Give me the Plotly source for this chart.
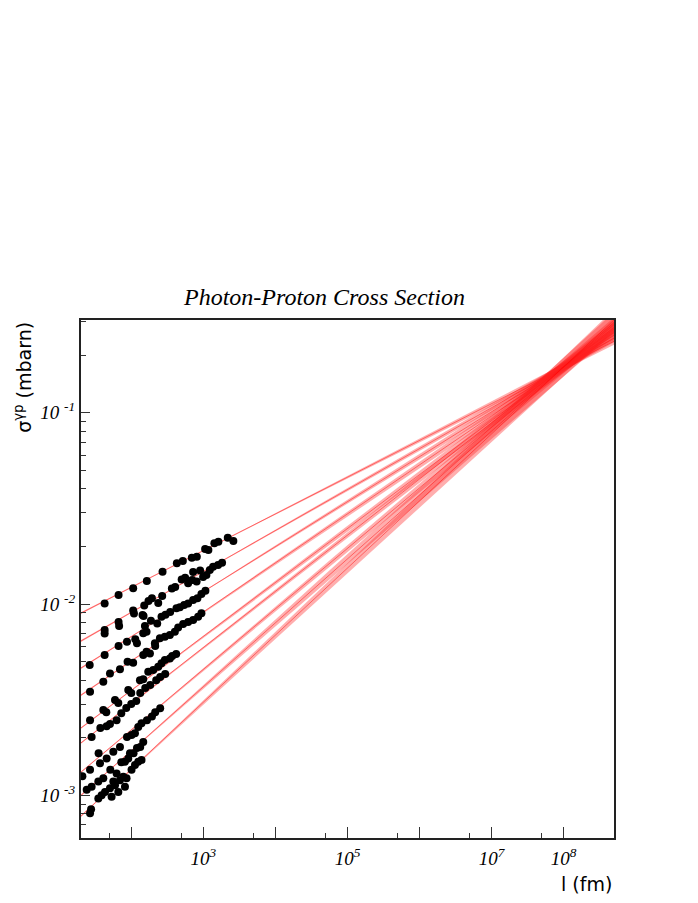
import numpy as np
import plotly.graph_objects as go

# ---- fit parameters: sigma = s20 * (l / 20 fm)^b ----
fit_sigma_at_20fm = [0.00897, 0.00641, 0.00463, 0.00334, 0.00225, 0.00188, 0.001323, 0.00100, 0.000779]
fit_exponent = [0.1921, 0.2140, 0.2351, 0.2562, 0.2819, 0.2936, 0.3162, 0.3342, 0.3506]
fit_exponent_err = [0.003, 0.0035, 0.004, 0.0045, 0.005, 0.005, 0.0055, 0.008, 0.008]
fit_pivot_fm = [500, 450, 300, 250, 150, 120, 90, 70, 70]

# ---- data points (l in fm, sigma in mbarn) ----
l_s1 = [42.6, 66.5, 106, 164, 271, 428, 518, 691, 810, 1056, 1173, 1420, 1614, 2178, 2604]
sig_s1 = [0.01008, 0.01114, 0.01208, 0.01319, 0.01476, 0.01633, 0.01679, 0.01746, 0.01767,
          0.01939, 0.01915, 0.02077, 0.02118, 0.02222, 0.02134]

l_s2 = [42.6, 42.6, 66.5, 67.6, 106, 108.7, 147.6, 151, 173, 193, 236, 268, 365, 406, 499,
        558, 614, 698, 720, 805, 900, 991, 1101, 1227, 1363, 1598, 1816]
sig_s2 = [0.00731, 0.00701, 0.00805, 0.00767, 0.00925, 0.00892, 0.00866, 0.00982, 0.01037,
          0.01071, 0.01012, 0.01101, 0.01205, 0.01227, 0.01343, 0.01372, 0.01283, 0.01335,
          0.01470, 0.01312, 0.01497, 0.01384, 0.01419, 0.01507, 0.01567, 0.01600, 0.01644]

l_s3 = [26.4, 42.6, 66.5, 86.9, 113.3, 119.6, 143.0, 146.2, 154.3, 162.4, 186.8, 228.5, 262,
        297.6, 345.7, 422.8, 471.2, 540.4, 614, 720, 826, 938.5, 1066]
sig_s3 = [0.00480, 0.00541, 0.00603, 0.00635, 0.00654, 0.00623, 0.00876, 0.00703, 0.00767,
          0.00716, 0.00818, 0.00792, 0.00858, 0.00879, 0.00908, 0.00950, 0.00961, 0.00988,
          0.01008, 0.01049, 0.01071, 0.01128, 0.01173]

l_s4 = [26.7, 40.8, 50.5, 69.5, 88.6, 106, 146.2, 162.4, 181.0, 212.3, 214.3, 249, 292, 342.4,
        401.7, 446.3, 523.5, 614, 720, 844.8, 938.5]
sig_s4 = [0.00348, 0.00392, 0.00434, 0.00456, 0.00500, 0.00494, 0.00541, 0.00563, 0.00552,
          0.00623, 0.00603, 0.00662, 0.00675, 0.00689, 0.00716, 0.00754, 0.00786, 0.00805,
          0.00825, 0.00858, 0.00894]

l_s5 = [26.7, 40.8, 44.9, 59.3, 65.9, 90.6, 99.7, 131.6, 146.2, 171.5, 201.1, 236, 262, 292,
        342.4, 368.6, 418.7]
sig_s5 = [0.00247, 0.00279, 0.00272, 0.00315, 0.00304, 0.00355, 0.00343, 0.00400, 0.00405,
          0.00443, 0.00452, 0.00470, 0.00490, 0.00510, 0.00520, 0.00535, 0.00548]

l_s6 = [28.1, 37.1, 45.4, 50.5, 62.4, 72.5, 85.0, 99.7, 116.9, 132.8, 155.8, 182.7, 221.3,
        251.3, 294.8]
sig_s6 = [0.00202, 0.00225, 0.00230, 0.00236, 0.00247, 0.00269, 0.00286, 0.00300, 0.00311,
          0.00343, 0.00364, 0.00377, 0.00400, 0.00415, 0.00431]

l_s7 = [20.9, 26.7, 35.1, 36.7, 45.4, 56.2, 69.5, 86.9, 100.6, 112.2, 124.6, 138.4, 164.5,
        193, 214.3, 251.3]
sig_s7 = [0.00126, 0.00136, 0.00166, 0.00147, 0.00156, 0.00169, 0.00179, 0.00202, 0.00207,
          0.00211, 0.00228, 0.00238, 0.00247, 0.00258, 0.00272, 0.00285]

l_s8 = [24.0, 28.1, 34.8, 40.8, 51.0, 62.4, 72.5, 81.5, 90.6, 95.7, 107.3, 119.6, 132.8, 146.2]
sig_s8 = [0.00107, 0.00111, 0.00118, 0.00123, 0.00136, 0.00130, 0.00149, 0.00150, 0.00156,
          0.00166, 0.00166, 0.00177, 0.00179, 0.00190]

l_s9 = [26.7, 27.6, 34.8, 38.7, 43.1, 50.5, 53.2, 56.2, 59.3, 65.9, 69.5, 77.3, 81.5, 85.8,
        100.6, 112.2, 124.6, 138.4]
sig_s9 = [0.000805, 0.000845, 0.000964, 0.00100, 0.00104, 0.00109, 0.000983, 0.00118, 0.00113,
          0.00104, 0.00120, 0.00125, 0.00111, 0.00123, 0.00136, 0.00144, 0.00150, 0.00153]

x_ticks = [1e2, 1e3, 1e4, 1e5, 1e6, 1e7, 1e8]
x_ticktext = ["", "10<sup>3</sup>", "", "10<sup>5</sup>", "", "10<sup>7</sup>", "10<sup>8</sup>"]
x_minor = [50, 5e2, 5e3, 5e4, 5e5, 5e6, 5e7]
y_ticks = [1e-3, 1e-2, 1e-1]
y_ticktext = ["10 <sup>-3</sup>", "10 <sup>-2</sup>", "10 <sup>-1</sup>"]
y_minor = [m * d for d in [1e-4, 1e-3, 1e-2, 1e-1] for m in range(2, 10)]

X_MIN, X_MAX = 20, 5e8
Y_MIN, Y_MAX = 10 ** -3.223, 10 ** -0.515

fig = go.Figure()

lgrid = np.logspace(np.log10(X_MIN), np.log10(X_MAX), 300)
for s20, b, db, piv in zip(fit_sigma_at_20fm, fit_exponent, fit_exponent_err, fit_pivot_fm):
    centre = s20 * (lgrid / 20.0) ** b
    up = centre * (lgrid / piv) ** db
    lo = centre * (lgrid / piv) ** (-db)
    upper = np.maximum(up, lo)
    lower = np.minimum(up, lo)
    fig.add_trace(go.Scatter(
        x=np.concatenate([lgrid, lgrid[::-1]]),
        y=np.concatenate([upper, lower[::-1]]),
        fill="toself", fillcolor="rgba(255,30,30,0.36)",
        line=dict(width=0), mode="lines", hoverinfo="skip", showlegend=False))
    fig.add_trace(go.Scatter(x=lgrid, y=centre, mode="lines",
                             line=dict(color="rgba(255,0,0,0.45)", width=1),
                             hoverinfo="skip", showlegend=False))

series = [(l_s1, sig_s1), (l_s2, sig_s2), (l_s3, sig_s3), (l_s4, sig_s4), (l_s5, sig_s5),
          (l_s6, sig_s6), (l_s7, sig_s7), (l_s8, sig_s8), (l_s9, sig_s9)]
for lx, sy in series:
    fig.add_trace(go.Scatter(x=lx, y=sy, mode="markers",
                             marker=dict(color="black", size=8, line=dict(width=0)),
                             showlegend=False))

tickfont = dict(family="Liberation Serif", size=19, color="black", style="italic")

# plot area: 533 x 518 px (page shows an 8 px body offset, compensated in the margins)
fig.update_layout(
    width=698, height=903,
    margin=dict(l=73, r=92, t=312, b=73),
    paper_bgcolor="white", plot_bgcolor="white",
    showlegend=False,
    xaxis=dict(type="log", range=[np.log10(X_MIN), np.log10(X_MAX)], automargin=False,
               tickmode="array", tickvals=x_ticks, ticktext=x_ticktext,
               ticks="inside", ticklen=11, tickwidth=1, tickcolor="#333",
               minor=dict(tickmode="array", tickvals=x_minor, ticks="inside",
                          ticklen=5, tickwidth=1, tickcolor="#333"),
               showgrid=False, zeroline=False,
               showline=True, mirror=True, linecolor="#222", linewidth=2,
               tickfont=tickfont, ticklabelstandoff=2),
    yaxis=dict(type="log", range=[np.log10(Y_MIN), np.log10(Y_MAX)], automargin=False,
               tickmode="array", tickvals=y_ticks, ticktext=y_ticktext,
               ticks="inside", ticklen=9, tickwidth=1, tickcolor="#333",
               minor=dict(tickmode="array", tickvals=y_minor, ticks="inside",
                          ticklen=4.5, tickwidth=1, tickcolor="#333"),
               showgrid=False, zeroline=False,
               showline=True, mirror=True, linecolor="#222", linewidth=2,
               tickfont=tickfont),
    annotations=[
        dict(text="Photon-Proton Cross Section", xref="paper", yref="paper",
             x=(324 - 80.7) / 533, y=(838 - 297) / 518, xanchor="center", yanchor="middle",
             showarrow=False,
             font=dict(family="Liberation Serif", size=24, color="black", style="italic")),
        dict(text="σ<sup>γp</sup> (mbarn)", xref="paper", yref="paper",
             x=(22 - 80.7) / 533, y=1.0, xanchor="center", yanchor="top",
             textangle=-90, showarrow=False,
             font=dict(family="DejaVu Sans", size=19, color="black")),
        dict(text="l (fm)", xref="paper", yref="paper",
             x=1.0, y=(838 - 884) / 518, xanchor="right", yanchor="middle",
             showarrow=False,
             font=dict(family="DejaVu Sans", size=19, color="black")),
    ],
)

fig.write_html("out.html")
